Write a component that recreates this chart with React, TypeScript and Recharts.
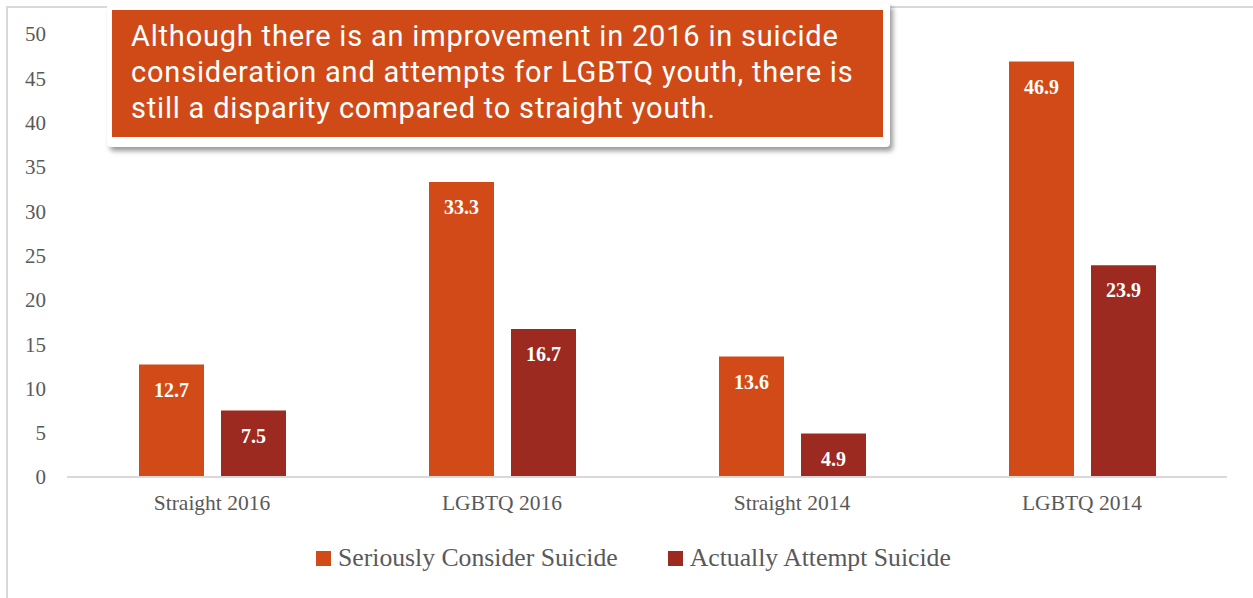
import React from 'react'
import { BarChart, Bar, XAxis, YAxis, LabelList } from 'recharts'

const categories = ['Straight 2016', 'LGBTQ 2016', 'Straight 2014', 'LGBTQ 2014']
const considerValues = [12.7, 33.3, 13.6, 46.9]
const attemptValues = [7.5, 16.7, 4.9, 23.9]
const yTicks = [0, 5, 10, 15, 20, 25, 30, 35, 40, 45, 50]
const seriesNames = ['Seriously Consider Suicide', 'Actually Attempt Suicide']
const calloutLines = [
    'Although there is an improvement in 2016 in suicide',
    'consideration and attempts for LGBTQ youth, there is',
    'still a disparity compared to straight youth.',
]

const ORANGE = '#D24A17'
const DARK = '#9C2A20'
const SERIF = '"Liberation Serif", "DejaVu Serif", serif'

const data = categories.map((name, i) => ({
    name,
    consider: considerValues[i],
    attempt: attemptValues[i],
}))

export default function App() {
    return (
        <div style={{ position: 'absolute', left: 0, top: 0, width: 1253, height: 598, overflow: 'hidden', background: '#fff' }}>
            {/* slide frame */}
            <div style={{ position: 'absolute', left: 6, top: 6, width: 1300, height: 700, borderLeft: '2px solid #d9d9d9', borderTop: '2px solid #d9d9d9' }} />

            <BarChart
                width={1253}
                height={598}
                data={data}
                margin={{ top: 34, right: 26, left: 0, bottom: 91 }}
                barSize={65}
                barGap={17}
                style={{ position: 'absolute', left: 0, top: 0 }}
            >
                <XAxis
                    dataKey="name"
                    axisLine={{ stroke: '#d9d9d9', strokeWidth: 2 }}
                    tickLine={false}
                    tickMargin={12}
                    tick={{ fill: '#595959', fontSize: 21.5, fontFamily: SERIF }}
                    height={30}
                />
                <YAxis
                    domain={[0, 50]}
                    ticks={yTicks}
                    axisLine={false}
                    tickLine={false}
                    tickMargin={15}
                    width={67}
                    tick={{ fill: '#595959', fontSize: 21, fontFamily: SERIF }}
                />
                <Bar dataKey="consider" name={seriesNames[0]} fill={ORANGE} isAnimationActive={false}>
                    <LabelList dataKey="consider" position="insideTop" offset={18} fill="#fff" fontSize={20} fontWeight="bold" fontFamily={SERIF} />
                </Bar>
                <Bar dataKey="attempt" name={seriesNames[1]} fill={DARK} isAnimationActive={false}>
                    <LabelList dataKey="attempt" position="insideTop" offset={18} fill="#fff" fontSize={20} fontWeight="bold" fontFamily={SERIF} />
                </Bar>
            </BarChart>

            {/* legend */}
            <div style={{ position: 'absolute', left: 316, top: 543, display: 'flex', alignItems: 'center', fontFamily: SERIF, fontSize: 25.7, color: '#595959', whiteSpace: 'nowrap' }}>
                {seriesNames.map((n, i) => (
                    <div key={n} style={{ display: 'flex', alignItems: 'center', marginRight: i === 0 ? 50 : 0 }}>
                        <span style={{ display: 'inline-block', width: 15, height: 15, background: i === 0 ? ORANGE : DARK, marginRight: 7 }} />
                        <span>{n}</span>
                    </div>
                ))}
            </div>

            {/* callout */}
            <div style={{ position: 'absolute', left: 107, top: 3, width: 783, height: 144, background: '#fff', borderRadius: 4, boxShadow: '3px 4px 5px rgba(0,0,0,0.4)' }}>
                <div style={{ position: 'absolute', left: 5, top: 7, width: 771, height: 127, background: '#D04A18', color: '#fff', fontFamily: 'Roboto, "Liberation Sans", sans-serif', fontSize: 29, letterSpacing: 0.8, lineHeight: '36px', padding: '8px 0 0 19px', boxSizing: 'border-box' }}>
                    {calloutLines.map((l) => (
                        <div key={l} style={{ whiteSpace: 'nowrap' }}>{l}</div>
                    ))}
                </div>
            </div>
        </div>
    )
}
